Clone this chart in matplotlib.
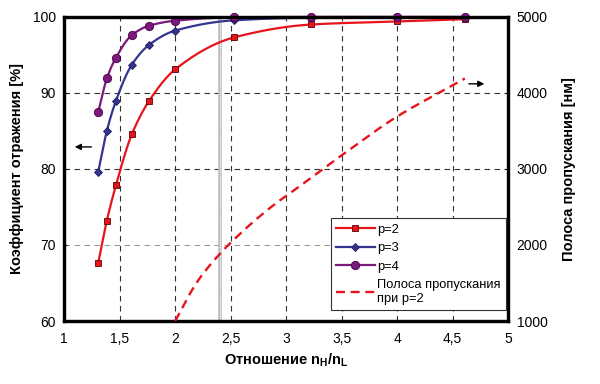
import matplotlib
matplotlib.use("Agg")
import matplotlib.pyplot as plt
import numpy as np
from matplotlib.ticker import FuncFormatter

plt.rcParams["font.family"] = ["Liberation Sans", "DejaVu Sans"]
plt.rcParams["mathtext.fontset"] = "custom"
plt.rcParams["mathtext.bf"] = "Liberation Sans:bold"
plt.rcParams["mathtext.rm"] = "Liberation Sans"

# n_H / n_L ratios of the material pairs
RATIO = [1.306, 1.384, 1.467, 1.609, 1.767, 2.0, 2.53, 3.227, 4.0, 4.615]

# reflection coefficient [%]
R_P2 = [67.6, 73.2, 77.9, 84.55, 89.0, 93.1, 97.3, 99.0, 99.4, 99.7]
R_P3 = [79.6, 85.0, 89.0, 93.7, 96.35, 98.2, 99.55, 99.9, 99.95, 99.97]
R_P4 = [87.45, 91.9, 94.65, 97.6, 98.85, 99.5, 99.95, 100.0, 100.0, 100.0]

# bandwidth [nm] for p=2
BW_X = [2.0, 2.2, 2.4, 2.5, 2.7, 2.9, 3.1, 3.24, 3.5, 4.0, 4.5, 4.61]
BW_NM = [1000, 1520, 1880, 2030, 2300, 2540, 2750, 2900, 3180, 3690, 4100, 4190]

X_TICKS = [1, 1.5, 2, 2.5, 3, 3.5, 4, 4.5, 5]
LEFT_TICKS = [60, 70, 80, 90, 100]
RIGHT_TICKS = [1000, 2000, 3000, 4000, 5000]
CUTOFF_X = 2.4


def smooth(x, y, n=300):
    # monotone cubic hermite (Fritsch-Carlson), only for drawing the curve
    x = np.asarray(x, float)
    y = np.asarray(y, float)
    h = np.diff(x)
    d = np.diff(y) / h
    m = np.zeros_like(y)
    m[0], m[-1] = d[0], d[-1]
    for i in range(1, len(x) - 1):
        if d[i - 1] * d[i] <= 0:
            m[i] = 0.0
        else:
            w1 = 2 * h[i] + h[i - 1]
            w2 = h[i] + 2 * h[i - 1]
            m[i] = (w1 + w2) / (w1 / d[i - 1] + w2 / d[i])
    xs = np.linspace(x[0], x[-1], n)
    idx = np.clip(np.searchsorted(x, xs) - 1, 0, len(x) - 2)
    t = (xs - x[idx]) / h[idx]
    h00 = 2 * t**3 - 3 * t**2 + 1
    h10 = t**3 - 2 * t**2 + t
    h01 = -2 * t**3 + 3 * t**2
    h11 = t**3 - t**2
    ys = h00 * y[idx] + h10 * h[idx] * m[idx] + h01 * y[idx + 1] + h11 * h[idx] * m[idx + 1]
    return xs, ys


def comma(v, pos):
    s = f"{v:g}"
    return s.replace(".", ",")


fig = plt.figure(figsize=(6.0, 3.84), dpi=100)
ax = fig.add_axes([0.107, 0.164, 0.74, 0.792])
ax2 = ax.twinx()

# grid
for xv in X_TICKS[1:-1]:
    ax.axvline(xv, color="#333333", lw=0.8, dashes=(5, 4), zorder=1)
for yv, c in [(70, "#999999"), (80, "#333333"), (90, "#333333")]:
    ax.axhline(yv, color=c, lw=0.8, dashes=(5, 4), zorder=1)

ax.axvline(CUTOFF_X, color="#bcbcbc", lw=2.6, zorder=2)
ax.axvline(CUTOFF_X, color="white", lw=0.8, ls=(0, (1, 1)), zorder=2)

series = [
    (R_P2, "#e8141c", "s", 5.0, "#5a0000", "p=2"),
    (R_P3, "#353590", "D", 3.6, "#1c1c60", "p=3"),
    (R_P4, "#7a1a7a", "o", 6.0, "#4a004a", "p=4"),
]
handles = []
for vals, col, mk, ms, ec, lab in series:
    xs, ys = smooth(RATIO, vals)
    ax.plot(xs, ys, color=col, lw=1.6, zorder=5, solid_capstyle="round", clip_on=False)
    ax.plot(RATIO, vals, ls="none", marker=mk, ms=ms, mfc=col, mec=ec, mew=0.6, zorder=6,
            clip_on=False)
    h, = ax.plot([], [], color=col, lw=1.6, marker=mk, ms=ms, mfc=col, mec=ec, mew=0.6, label=lab)
    handles.append(h)

bx, by = smooth(BW_X, BW_NM)
ax2.plot(bx, by, color="#e8141c", lw=1.7, dashes=(3.8, 2.4), zorder=3)
hb, = ax2.plot([], [], color="#e8141c", lw=1.7, dashes=(3.8, 2.4), label="Полоса пропускания\nпри p=2")
handles.append(hb)

ax.set_xlim(1, 5)
ax.set_ylim(60, 100)
ax2.set_ylim(1000, 5000)
ax.set_xticks(X_TICKS)
ax.set_yticks(LEFT_TICKS)
ax2.set_yticks(RIGHT_TICKS)
ax.xaxis.set_major_formatter(FuncFormatter(comma))

for a in (ax, ax2):
    a.tick_params(direction="in", length=2.5, width=0.8, labelsize=10, pad=6)
    for sp in a.spines.values():
        sp.set_linewidth(2.3)
        sp.set_color("black")
ax.tick_params(axis="x", length=0, pad=8)

ax.set_xlabel(r"Отношение $\mathbf{n}_\mathbf{H}\mathbf{/n}_\mathbf{L}$", fontsize=10.5,
              fontweight="bold", labelpad=4)
ax.set_ylabel("Коэффициент отражения [%]", fontsize=10.5, fontweight="bold", labelpad=6)
ax2.set_ylabel("Полоса пропускания [нм]", fontsize=10.5, fontweight="bold", labelpad=10)

# direction arrows
ax.annotate("", xy=(1.07, 82.9), xytext=(1.27, 82.9),
            arrowprops=dict(arrowstyle="-|>", color="black", lw=1.0, mutation_scale=9))
ax.annotate("", xy=(4.81, 91.2), xytext=(4.62, 91.2),
            arrowprops=dict(arrowstyle="-|>", color="black", lw=1.0, mutation_scale=9))

leg = ax2.legend(handles=handles, loc="lower left", bbox_to_anchor=(0.6, 0.036, 0.394, 0.345),
                 mode="expand", fontsize=9.3, frameon=True, fancybox=False, framealpha=1,
                 edgecolor="#333333", handlelength=3.0, handletextpad=0.2,
                 borderpad=0.4, labelspacing=0.5, borderaxespad=0)
leg.get_frame().set_linewidth(0.8)

fig.savefig("out.png", dpi=100)
